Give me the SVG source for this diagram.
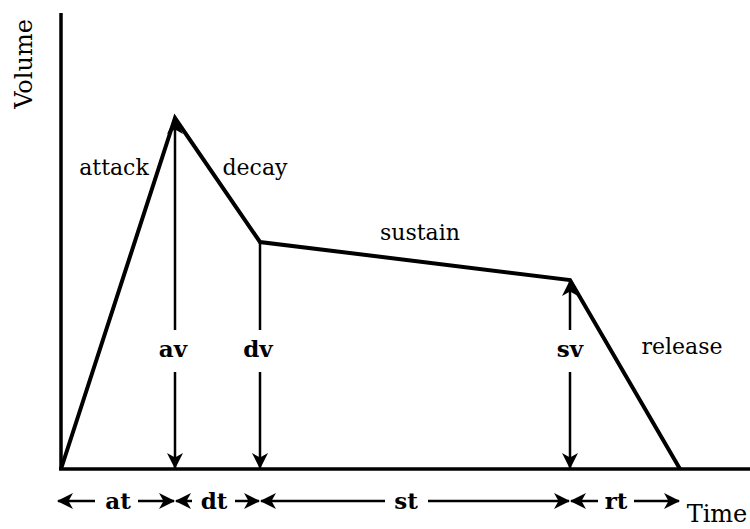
<svg xmlns="http://www.w3.org/2000/svg" width="750" height="529" viewBox="0 0 750 529">
<defs>
<marker id="ah" viewBox="0 0 16 16" refX="15" refY="8" markerWidth="16" markerHeight="16" markerUnits="userSpaceOnUse" orient="auto-start-reverse">
<path d="M0,0 L16,8 L0,16 L4.5,8 z" fill="#000"/>
</marker>
<style>
.t{font-family:"DejaVu Serif","Liberation Serif",serif;font-size:22px;fill:#000}
.b{font-family:"DejaVu Serif","Liberation Serif",serif;font-size:23px;font-weight:bold;fill:#000}
.ax{stroke:#000;stroke-width:3.5;fill:none}
.env{stroke:#000;stroke-width:4;fill:none;stroke-linejoin:miter}
.ar{stroke:#000;stroke-width:2.5;fill:none}
</style>
</defs>
<rect width="750" height="529" fill="#fff"/>
<g id="axes">
<line class="ax" x1="61" y1="13" x2="61" y2="470"/>
<line class="ax" x1="59" y1="469" x2="750" y2="469"/>
<text class="t" style="font-size:24px" transform="translate(32,64) rotate(-90)" text-anchor="middle">Volume</text>
<text class="t" style="font-size:24px" x="717" y="522" text-anchor="middle">Time</text>
</g>
<g id="envelope">
<polyline class="env" points="61,469 175,118 260,242 570,280 680,469"/>
<text class="t" x="114" y="175" text-anchor="middle">attack</text>
<text class="t" x="255" y="175" text-anchor="middle">decay</text>
<text class="t" x="420" y="240" text-anchor="middle">sustain</text>
<text class="t" x="682" y="354" text-anchor="middle">release</text>
</g>
<g id="connectors">
<line class="ar" x1="175" y1="330" x2="175" y2="119" marker-end="url(#ah)"/>
<line class="ar" x1="175" y1="372" x2="175" y2="468" marker-end="url(#ah)"/>
<line class="ar" x1="260" y1="242" x2="260" y2="330"/>
<line class="ar" x1="260" y1="372" x2="260" y2="468" marker-end="url(#ah)"/>
<line class="ar" x1="570" y1="330" x2="570" y2="281" marker-end="url(#ah)"/>
<line class="ar" x1="570" y1="372" x2="570" y2="468" marker-end="url(#ah)"/>
<line class="ar" x1="95" y1="501" x2="58" y2="501" marker-end="url(#ah)"/>
<line class="ar" x1="138" y1="501" x2="174" y2="501" marker-end="url(#ah)"/>
<line class="ar" x1="192" y1="501" x2="176" y2="501" marker-end="url(#ah)"/>
<line class="ar" x1="235" y1="501" x2="259" y2="501" marker-end="url(#ah)"/>
<line class="ar" x1="385" y1="501" x2="261" y2="501" marker-end="url(#ah)"/>
<line class="ar" x1="428" y1="501" x2="569" y2="501" marker-end="url(#ah)"/>
<line class="ar" x1="598" y1="501" x2="571" y2="501" marker-end="url(#ah)"/>
<line class="ar" x1="634" y1="501" x2="679" y2="501" marker-end="url(#ah)"/>
</g>
<g id="labels">
<text class="b" x="173" y="357" text-anchor="middle">av</text>
<text class="b" x="258" y="357" text-anchor="middle">dv</text>
<text class="b" x="570" y="357" text-anchor="middle">sv</text>
<text class="b" x="118" y="509" text-anchor="middle">at</text>
<text class="b" x="214" y="509" text-anchor="middle">dt</text>
<text class="b" x="406" y="509" text-anchor="middle">st</text>
<text class="b" x="616" y="509" text-anchor="middle">rt</text>
</g>
</svg>
